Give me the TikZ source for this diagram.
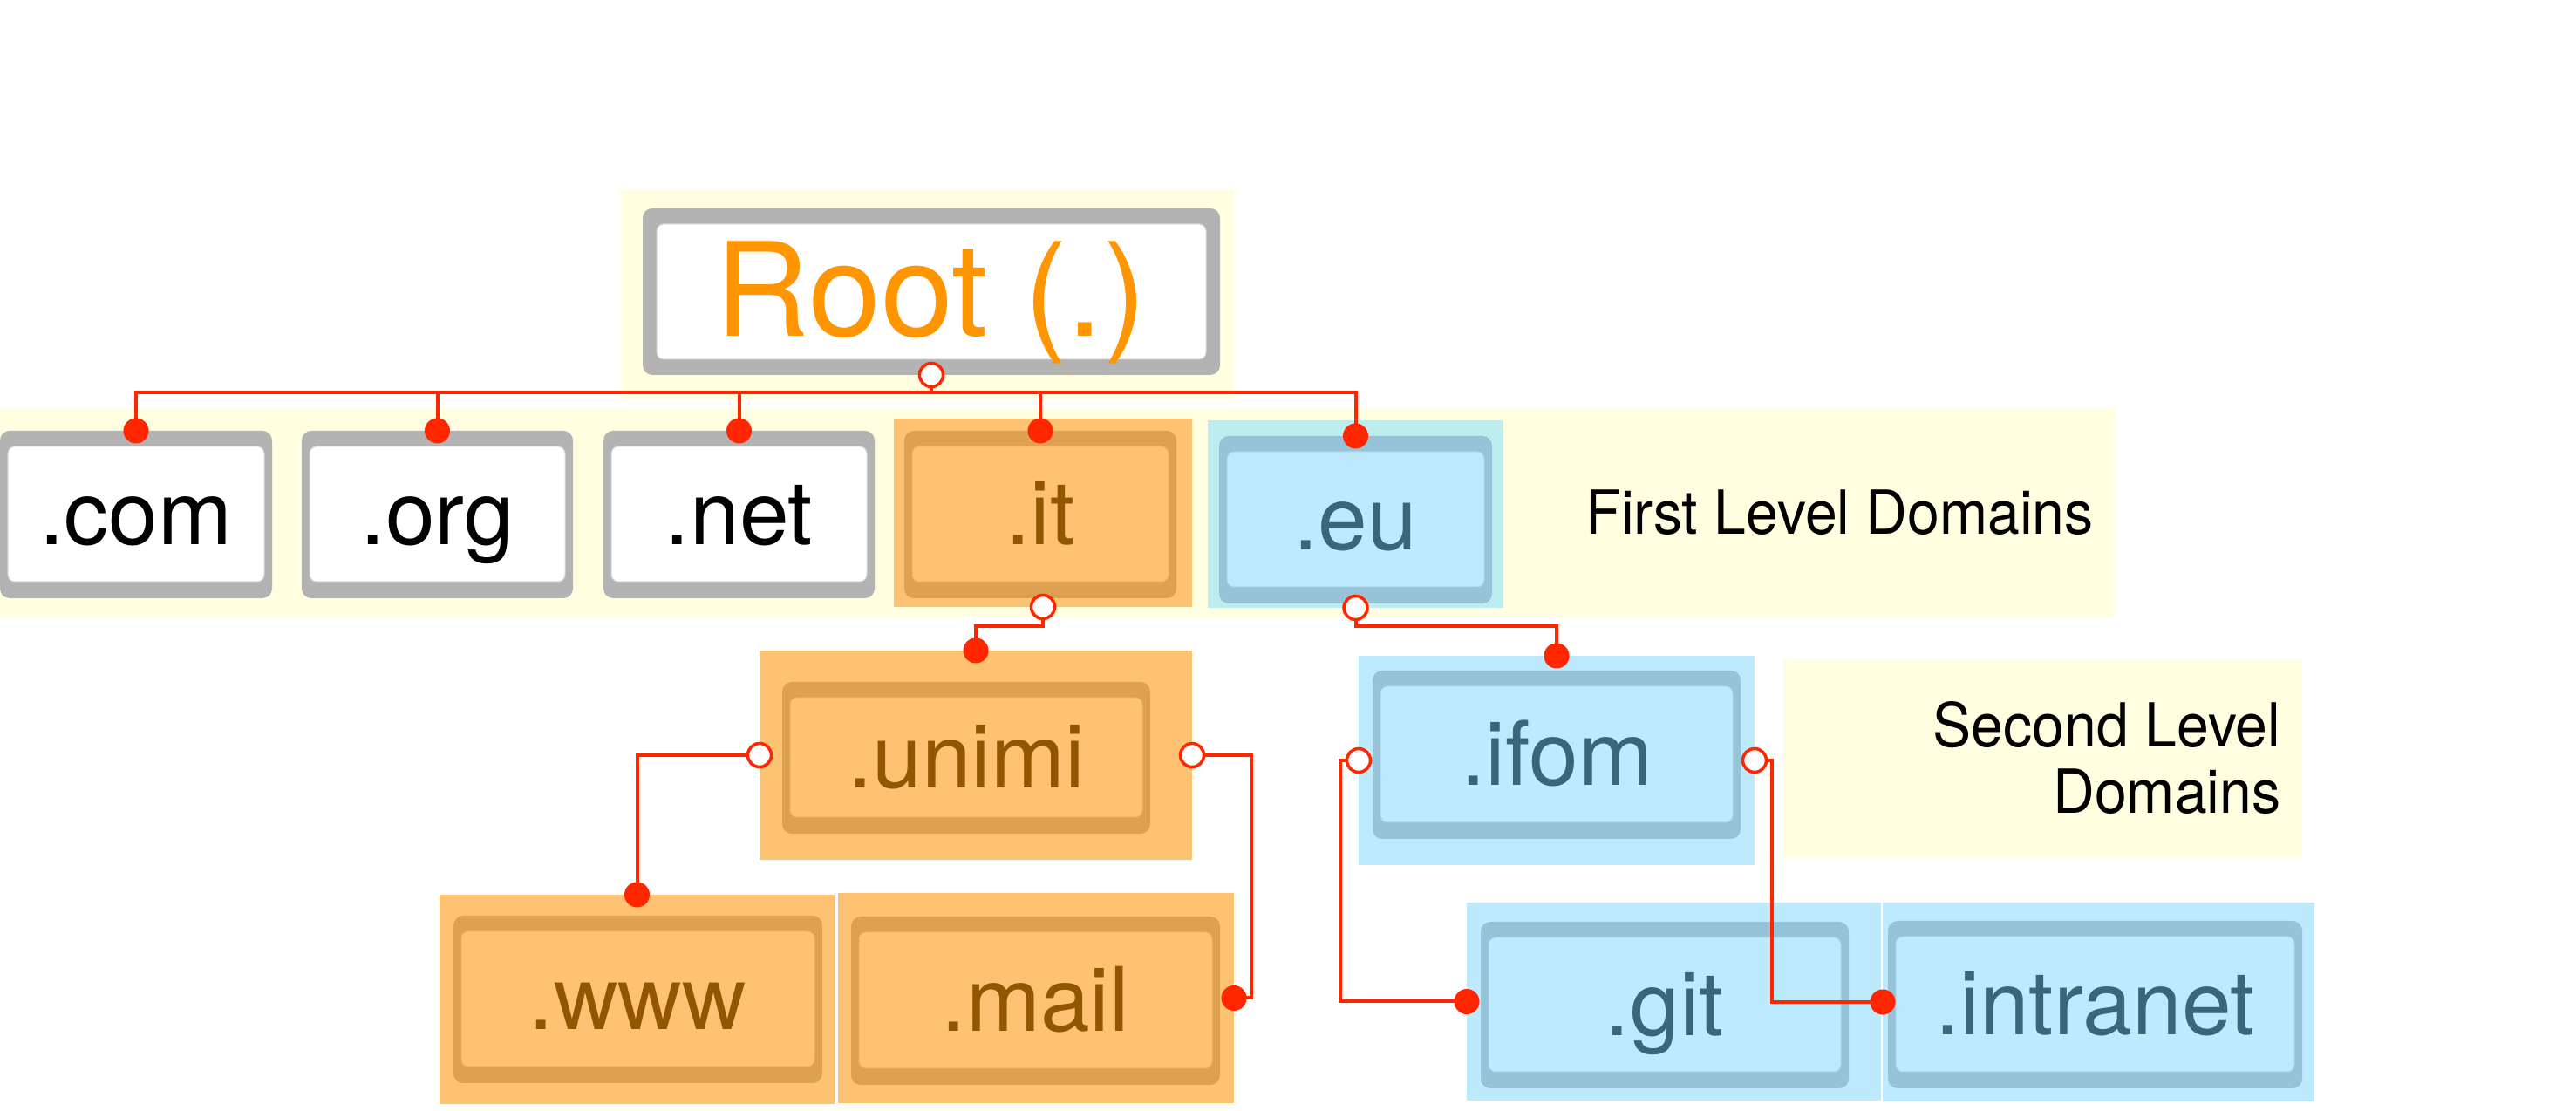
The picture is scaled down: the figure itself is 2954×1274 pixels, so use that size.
\documentclass[tikz,border=0pt]{standalone}
\usepackage{fontspec}
\setmainfont{TeX Gyre Heros}
\usetikzlibrary{fit,calc}
\definecolor{ybg}{RGB}{255,254,224}
\definecolor{gframe}{RGB}{179,179,179}
\definecolor{gline}{RGB}{214,214,214}
\definecolor{obg}{RGB}{253,195,115}
\definecolor{oframe}{RGB}{222,161,82}
\definecolor{oline}{RGB}{236,180,100}
\definecolor{otext}{RGB}{145,87,0}
\definecolor{bbg}{RGB}{189,234,252}
\definecolor{eubg}{RGB}{190,237,240}
\definecolor{bframe}{RGB}{150,195,215}
\definecolor{bline}{RGB}{168,214,234}
\definecolor{btext}{RGB}{58,102,122}
\definecolor{conred}{RGB}{255,38,0}
\definecolor{roottext}{RGB}{255,149,0}
\tikzset{
  boxfit/.style={inner sep=0pt, outer sep=0pt},
  framecommon/.style={boxfit, draw=none, rounded corners=1.1mm},
  incommon/.style={boxfit, rounded corners=0.8mm, line width=0.1mm},
  lblcommon/.style={inner sep=0pt, anchor=base, font=\fontsize{29}{35}\selectfont},
  frameg/.style={framecommon, fill=gframe},
  innerg/.style={incommon, fill=white, draw=gline},
  lblg/.style={lblcommon, text=black},
  frameo/.style={framecommon, fill=oframe},
  innero/.style={incommon, fill=obg, draw=oline},
  lblo/.style={lblcommon, text=otext},
  frameb/.style={framecommon, fill=bframe},
  innerb/.style={incommon, fill=bbg, draw=bline},
  lblb/.style={lblcommon, text=btext},
  ybox/.style={boxfit, draw=none, fill=ybg},
  obox/.style={boxfit, draw=none, fill=obg},
  bbox/.style={boxfit, draw=none, fill=bbg},
  eubox/.style={boxfit, draw=none, fill=eubg},
  conn/.style={draw=conred, line width=0.04cm},
  fdot/.style={circle, fill=conred, draw=none, minimum size=0.29cm, inner sep=0pt},
  odot/.style={circle, fill=white, draw=conred, line width=0.035cm, minimum size=0.27cm, inner sep=0pt},
  legend/.style={inner sep=0pt, font=\fontsize{19.8}{21.6}\selectfont, text=black}
}
\newcommand\dbox[7]{%
  \node[fit={(#3,#4)(#5,#6)}, frame#2] (#1) {};
  \node[fit={({#3+9},{#4+18})({#5-9},{#6-19})}, inner#2] (#1-in) {};
  \node[lbl#2] (#1-t) at ({(#3+#5)/2},{(#4+#6)/2+35}) {#7};
}
\newcommand\narrow[1]{\scalebox{0.95}[1]{#1}}
\begin{document}
\begin{tikzpicture}[x=0.01cm, y=-0.01cm]
\fill[white] (0,0) rectangle (2954,1274);
\useasboundingbox (0,0) rectangle (2954,1274);

% yellow areas
\node[fit={(712,218)(1415,457)}, ybox] (rootarea) {};
\node[fit={(0,468)(2426,707)}, ybox] (firstarea) {};
\node[fit={(2045,756)(2640,984)}, ybox] (secondarea) {};

% root
\node[fit={(737,239)(1399,430)}, framecommon, fill=gframe] (root) {};
\node[fit={(753,257)(1383,412)}, incommon, fill=white, draw=gline] (root-in) {};
\node[inner sep=0pt, anchor=base, font=\fontsize{42.4}{50}\selectfont, text=roottext] (root-t) at (1068,386) {Root (.)};

% coloured backgrounds
\node[fit={(1025,480)(1367,696)}, obox] (it-bg) {};
\node[fit={(1385,482)(1724,697)}, eubox] (eu-bg) {};
\node[fit={(871,746)(1367,986)}, obox] (unimi-bg) {};
\node[fit={(1558,752)(2012,992)}, bbox] (ifom-bg) {};
\node[fit={(504,1026)(957,1266)}, obox] (www-bg) {};
\node[fit={(961,1024)(1415,1265)}, obox] (mail-bg) {};
\node[fit={(1682,1035)(2157,1262)}, bbox] (git-bg) {};
\node[fit={(2159,1035)(2654,1263)}, bbox] (intranet-bg) {};

% domain boxes
\dbox{com}{g}{0}{494}{312}{686}{.com}
\dbox{org}{g}{346}{494}{657}{686}{.org}
\dbox{net}{g}{692}{494}{1003}{686}{.net}
\dbox{it}{o}{1037}{494}{1349}{686}{.it}
\dbox{eu}{b}{1398}{500}{1711}{692}{.eu}
\dbox{unimi}{o}{897}{782}{1319}{956}{.unimi}
\dbox{ifom}{b}{1574}{769}{1996}{962}{.ifom}
\dbox{www}{o}{520}{1050}{943}{1242}{.www}
\dbox{mail}{o}{976}{1051}{1399}{1244}{.mail}
\dbox{git}{b}{1698}{1057}{2120}{1248}{.git}
\dbox{intranet}{b}{2165}{1056}{2640}{1248}{.intranet}

% legends
\node[legend, anchor=base west] (first-t) at (1818,613) {\narrow{First Level Domains}};
\node[legend, anchor=east, align=right] (second-t) at (2616,869) {\narrow{Second Level}\\\narrow{Domains}};

% connectors
\coordinate (rootbus) at ([yshift=-0.2cm]root.south);
\draw[conn] (root.south) -- (rootbus) -| (com.north);
\draw[conn] (rootbus) -| (org.north);
\draw[conn] (rootbus) -| (net.north);
\draw[conn] (rootbus) -| (it.north);
\draw[conn] (rootbus) -| (eu.north);
\draw[conn] (it-bg.south) -- ++(0,22) -| (unimi-bg.north);
\draw[conn] (eu-bg.south) -- ++(0,21) -| (ifom-bg.north);
\draw[conn] (unimi-bg.west) -| (www-bg.north);
\draw[conn] (unimi-bg.east) -- ++(68,0) |- (mail-bg.east);
\draw[conn] (ifom-bg.west) -- ++(-21,0) |- (git-bg.west);
\draw[conn] (ifom-bg.east) -- ++(20,0) |- (intranet-bg.west);

% end markers
\node[odot] (c-root) at (root.south) {};
\node[fdot] (d-com) at (com.north) {};
\node[fdot] (d-org) at (org.north) {};
\node[fdot] (d-net) at (net.north) {};
\node[fdot] (d-it) at (it.north) {};
\node[fdot] (d-eu) at (eu.north) {};
\node[odot] (c-it) at (it-bg.south) {};
\node[odot] (c-eu) at (eu-bg.south) {};
\node[fdot] (d-unimi) at (unimi-bg.north) {};
\node[fdot] (d-ifom) at (ifom-bg.north) {};
\node[odot] (c-unimi-l) at (unimi-bg.west) {};
\node[odot] (c-unimi-r) at (unimi-bg.east) {};
\node[odot] (c-ifom-l) at (ifom-bg.west) {};
\node[odot] (c-ifom-r) at (ifom-bg.east) {};
\node[fdot] (d-www) at (www-bg.north) {};
\node[fdot] (d-mail) at (mail-bg.east) {};
\node[fdot] (d-git) at (git-bg.west) {};
\node[fdot] (d-intranet) at (intranet-bg.west) {};
\end{tikzpicture}
\end{document}
